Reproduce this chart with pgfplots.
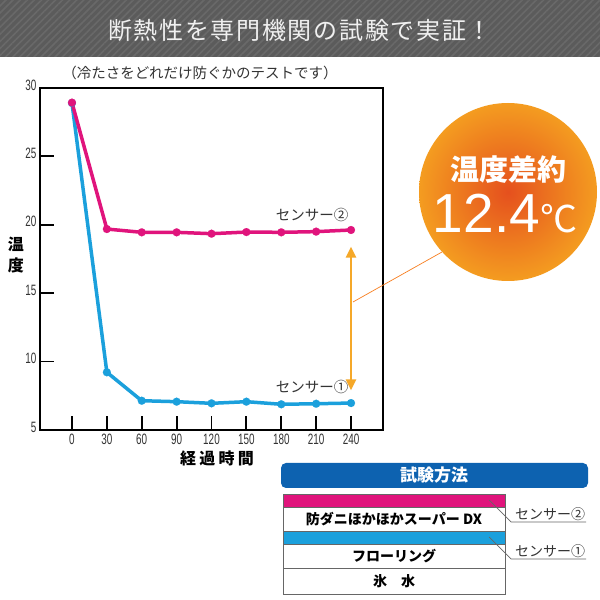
\documentclass[border=0pt]{standalone}
\usepackage{fontspec}
\usepackage{pgfplots}
\pgfplotsset{compat=1.18}
\usetikzlibrary{arrows.meta,patterns.meta}
\setmainfont{Noto Sans CJK JP}
\newfontfamily\numfont[FakeStretch=0.66]{Liberation Sans}
\newfontfamily\bignum{Liberation Sans}

\definecolor{pinkline}{HTML}{E0147C}
\definecolor{blueline}{HTML}{1BA0DC}
\definecolor{arroworange}{HTML}{F5A829}
\definecolor{headgray}{HTML}{5B5B5B}
\definecolor{stripe}{HTML}{696969}
\definecolor{methodblue}{HTML}{0D62B0}
\definecolor{txtgray}{HTML}{333333}
\definecolor{circin}{HTML}{E5501E}
\definecolor{circout}{HTML}{F49C20}

\begin{document}
\begin{tikzpicture}
\useasboundingbox (0pt,0pt) rectangle (600pt,600pt);
\fill[white] (0pt,0pt) rectangle (600pt,600pt);

% header band
\fill[headgray] (0pt,543pt) rectangle (600pt,600pt);
\fill[pattern={Lines[angle=45,distance=5pt,line width=1.6pt]}, pattern color=stripe] (0pt,543pt) rectangle (600pt,600pt);
\node[text=white!94!black, font=\fontsize{24}{24}\selectfont\addfontfeatures{LetterSpace=7}] at (300pt,570pt) {断熱性を専門機関の試験で実証！};

\begin{axis}[
    at={(40pt,170pt)}, anchor=south west,
    scale only axis, width=343pt, height=342pt,
    xmin=-27.5, xmax=267.5, ymin=5, ymax=30,
    xtick={0,30,...,240}, ytick={5,10,...,30},
    tick align=inside, xtick pos=bottom, ytick pos=left,
    major tick length=14pt,
    tick style={black, line width=1.8pt},
    axis line style={line width=1.3pt},
    ticklabel style={font=\numfont\fontsize{15}{15}\selectfont, text=txtgray},
    /pgf/number format/assume math mode=true,
    yticklabel style={yshift=3pt},
    clip=false,
  ]
  % sensor 1
  \addplot[blueline, line width=3.5pt, line join=round, mark=*, mark size=4pt,
    mark options={line width=0.1pt}] coordinates {
    (0,28.9) (30,9.22) (60,7.14) (90,7.07) (120,6.95)
    (150,7.07) (180,6.88) (210,6.92) (240,6.97)
  };
  % sensor 2
  \addplot[pinkline, line width=3.5pt, line join=round, mark=*, mark size=4pt,
    mark options={line width=0.1pt}] coordinates {
    (0,28.93) (30,19.69) (60,19.45) (90,19.45) (120,19.35)
    (150,19.47) (180,19.45) (210,19.5) (240,19.62)
  };
  \draw[arroworange, line width=2.6pt,
    {Triangle[width=10pt,length=11pt]}-{Triangle[width=10pt,length=11pt]}]
    (axis cs:240,18.4) -- (axis cs:240,7.9);
\end{axis}

% chart texts
\node[font=\fontsize{14.5}{14.5}\selectfont, text=txtgray] at (200pt,527pt) {（冷たさをどれだけ防ぐかのテストです）};
\node[font=\bfseries\fontsize{16}{21}\selectfont, align=center] at (16pt,345pt) {温\\度};
\node[font=\bfseries\fontsize{16}{16}\selectfont\addfontfeatures{LetterSpace=20}] at (217pt,142pt) {経過時間};
\node[font=\fontsize{14.5}{14.5}\selectfont, text=txtgray] at (312pt,385pt) {センサー②};
\node[font=\fontsize{14.5}{14.5}\selectfont, text=txtgray] at (312pt,213pt) {センサー①};

% callout
\draw[arroworange!75!red, line width=0.7pt] (353pt,298pt) -- (442pt,348pt);
\shade[inner color=circin, outer color=circout] (508pt,408pt) circle (89pt);
\node[white, font=\bfseries\fontsize{29}{29}\selectfont] at (508pt,430pt) {温度差約};
\node[white] at (505pt,386pt) {{\bignum\fontsize{55}{55}\selectfont 12.4}{\fontsize{37}{37}\selectfont ℃}};

% test method
\fill[methodblue, rounded corners=5pt] (281pt,112pt) rectangle (588pt,137pt);
\node[white, font=\bfseries\fontsize{17}{17}\selectfont] at (434pt,124.5pt) {試験方法};
\fill[pinkline] (283pt,93pt) rectangle (505pt,106pt);
\fill[blueline] (283pt,56pt) rectangle (505pt,69pt);
\draw[gray!80!black, line width=0.8pt] (283pt,6pt) rectangle (505pt,106pt);
\draw[gray!80!black, line width=0.8pt] (283pt,32pt) -- (505pt,32pt) (283pt,56pt) -- (505pt,56pt) (283pt,69pt) -- (505pt,69pt) (283pt,93pt) -- (505pt,93pt);
\node[font=\bfseries\fontsize{14}{14}\selectfont] at (394pt,81pt) {防ダニほかほかスーパー DX};
\node[font=\bfseries\fontsize{14}{14}\selectfont] at (394pt,44pt) {フローリング};
\node[font=\bfseries\fontsize{14}{14}\selectfont] at (394pt,19pt) {氷　水};

\draw[gray!80!black, line width=0.7pt] (489pt,100pt) -- (511pt,78pt) -- (586pt,78pt);
\node[anchor=south, inner sep=1.5pt, font=\fontsize{14}{14}\selectfont, text=txtgray] at (550pt,78pt) {センサー②};
\draw[gray!80!black, line width=0.7pt] (489pt,63pt) -- (511pt,41pt) -- (586pt,41pt);
\node[anchor=south, inner sep=1.5pt, font=\fontsize{14}{14}\selectfont, text=txtgray] at (550pt,41pt) {センサー①};
\end{tikzpicture}
\end{document}
